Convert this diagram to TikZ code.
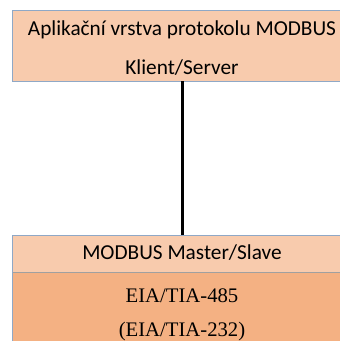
\documentclass[tikz,border=0pt]{standalone}
\usepackage{fontspec}
\setmainfont{Carlito}
\newfontfamily\timesfont{Liberation Serif}
\definecolor{lightpeach}{HTML}{F8CBAD}
\definecolor{darkpeach}{HTML}{F4B183}
\definecolor{frame}{HTML}{8FA8C6}
\definecolor{divider}{HTML}{A0A0A0}
\tikzset{
  layer/.style={draw=frame, line width=1pt},
  lbl/.style={inner sep=0pt, font=\fontsize{21.3}{24}\selectfont},
  serlbl/.style={inner sep=0pt, font=\timesfont\fontsize{20.7}{24}\selectfont},
}
\begin{document}
\begin{tikzpicture}[x=1pt,y=-1pt]
\useasboundingbox (0,0) rectangle (340,341);
\clip (0,0) rectangle (340,341);
% application layer box
\path[layer, fill=lightpeach] (12,10) rectangle (352,81);
\node[lbl] (app) at (182,30) {Aplikační vrstva protokolu MODBUS};
\node[lbl] (cs) at (182,68) {Klient/Server};
\coordinate (topbot) at (182,81);
% lower stack
\path[fill=darkpeach] (12,272) rectangle (352,345);
\path[fill=lightpeach] (12,235) rectangle (352,272);
\draw[divider, line width=0.8pt] (12,272) -- (352,272);
\draw[layer] (12,345) -- (12,235) -- (352,235);
\node[lbl] (ms) at (182,253) {MODBUS Master/Slave};
\node[serlbl] (eia485) at (182,296) {EIA/TIA-485};
\node[serlbl] (eia232) at (182,332) {(EIA/TIA-232)};
\coordinate (botop) at (182,235);
% connector
\draw[line width=3pt] (topbot) -- (botop);
\end{tikzpicture}
\end{document}
